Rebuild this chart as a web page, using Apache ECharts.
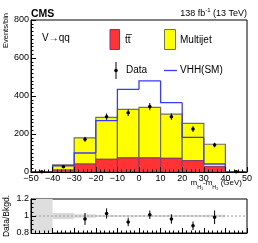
<!DOCTYPE html>
<html><head><meta charset="utf-8">
<script src="https://cdn.jsdelivr.net/npm/echarts@6/dist/echarts.min.js"></script>
<style>html,body{margin:0;padding:0;background:#fff}#c{width:258px;height:243px}</style>
</head><body><div id="c"></div>
<script>
// ---- data ----
const binLo = [-50, -40, -30, -20, -10, 0, 10, 20, 30, 40];
const binWidth = 10;
const ttbar = [0, 10, 42, 67, 74, 74, 72, 60, 28, 0];
const multijet = [0, 27, 138, 221, 256, 266, 233, 196, 118, 0];
const vhh = [2, 33, 100, 270, 435, 480, 365, 182, 42, 2];
const dataVals = [1, 28, 172, 291, 312, 344, 291, 226, 142, 1];
const dataErr = [1, 5, 13, 17, 18, 19, 17, 15, 12, 1];
const ratioVals = [null, null, 0.965, 1.03, 0.93, 1.015, 0.965, 0.885, 0.985, null];
const ratioErr = [null, null, 0.07, 0.06, 0.05, 0.05, 0.055, 0.05, 0.08, null];
const bandErr = [null, 0.035, 0.02, 0.012, 0.01, 0.01, 0.012, 0.012, 0.015, 0];
const yTickLabels = [0, 200, 400, 600, 800];
const xMin = -50, xMax = 50, xStep = 10;
const yMin = 0, yMax = 800, yStep = 200;
const rMin = 0.8, rMax = 1.2, rStep = 0.2;

const FONT = 'Liberation Sans, Arial, Helvetica, sans-serif';
const chart = echarts.init(document.getElementById('c'));

function axisCommon() {
  return {
    axisLine: {show: true, onZero: false, lineStyle: {color: '#000', width: 1}},
    axisTick: {show: true, inside: true, length: 5, lineStyle: {color: '#000', width: 1}},
    minorTick: {show: true, length: 2.5, lineStyle: {color: '#000', width: 1}},
    splitLine: {show: false}, z: 10
  };
}

chart.setOption({
  animation: false,
  grid: [
    {show: true, borderColor: '#000', borderWidth: 1, backgroundColor: 'transparent', containLabel: false, left: 31, top: 20, width: 216, height: 152},
    {show: true, borderColor: '#000', borderWidth: 1, backgroundColor: 'transparent', containLabel: false, left: 31, top: 199, width: 216, height: 34}
  ],
  xAxis: [
    Object.assign(axisCommon(), {type: 'value', gridIndex: 0, min: xMin, max: xMax, interval: xStep,
      minorTick: {show: true, splitNumber: 5, length: 2.5},
      axisLabel: {fontFamily: FONT, fontSize: 9, color: '#000', margin: 2,
        formatter: v => (v < 0 ? '\u2212' + Math.abs(v) : String(v))}}),
    Object.assign(axisCommon(), {type: 'value', gridIndex: 1, min: xMin, max: xMax, interval: xStep,
      minorTick: {show: true, splitNumber: 5, length: 2.5},
      axisLabel: {show: false}})
  ],
  yAxis: [
    Object.assign(axisCommon(), {type: 'value', gridIndex: 0, min: yMin, max: yMax, interval: yStep,
      minorTick: {show: true, splitNumber: 10, length: 2.5},
      axisLabel: {fontFamily: FONT, fontSize: 9, color: '#000', margin: 2}}),
    Object.assign(axisCommon(), {type: 'value', gridIndex: 1, min: rMin, max: rMax, interval: rStep,
      minorTick: {show: true, splitNumber: 4, length: 2.5},
      axisLabel: {fontFamily: FONT, fontSize: 9, color: '#000', margin: 2}})
  ],
  series: [
    {
      type: 'custom', xAxisIndex: 0, yAxisIndex: 0, z: 2,
      data: binLo.map((lo, i) => [lo, lo + binWidth, ttbar[i], multijet[i]]),
      encode: {x: [0, 1], y: [2, 3]},
      renderItem(params, api) {
        const x0 = api.value(0), x1 = api.value(1), t = api.value(2), m = api.value(3);
        if (t + m <= 0) return null;
        const b = api.coord([x0, 0]), r = api.coord([x1, t]), tp = api.coord([x1, t + m]);
        return {type: 'group', children: [
          {type: 'rect', shape: {x: b[0], y: tp[1], width: r[0] - b[0], height: r[1] - tp[1]},
            style: {fill: '#ffff00', stroke: '#6e6e6e', lineWidth: 1.2}},
          {type: 'rect', shape: {x: b[0], y: r[1], width: r[0] - b[0], height: b[1] - r[1]},
            style: {fill: '#ff3333', stroke: '#8a3a6a', lineWidth: 1}}
        ]};
      }
    },
    {
      type: 'custom', xAxisIndex: 0, yAxisIndex: 0, z: 3,
      data: binLo.map((lo, i) => [lo, lo + binWidth, vhh[i], i > 0 ? vhh[i - 1] : 0]),
      encode: {x: [0, 1], y: [2]},
      renderItem(params, api) {
        const x0 = api.value(0), x1 = api.value(1), v = api.value(2), p = api.value(3);
        const a = api.coord([x0, p]), b = api.coord([x0, v]), c = api.coord([x1, v]);
        return {type: 'polyline', shape: {points: [a, b, c]},
          style: {stroke: '#3a3aff', lineWidth: 1.3, fill: null}};
      }
    },
    {
      type: 'custom', xAxisIndex: 0, yAxisIndex: 0, z: 4,
      data: binLo.map((lo, i) => [lo + binWidth / 2, dataVals[i], dataErr[i]]),
      encode: {x: [0], y: [1]},
      renderItem(params, api) {
        const x = api.value(0), v = api.value(1), e = api.value(2);
        const lo = api.coord([x, Math.max(0, v - e)]), hi = api.coord([x, v + e]), c = api.coord([x, v]);
        return {type: 'group', children: [
          {type: 'line', shape: {x1: lo[0], y1: lo[1], x2: hi[0], y2: hi[1]}, style: {stroke: '#000', lineWidth: 1}},
          {type: 'circle', shape: {cx: c[0], cy: c[1], r: 1.8}, style: {fill: '#000'}}
        ]};
      }
    },
    {
      type: 'custom', xAxisIndex: 1, yAxisIndex: 1, z: 2,
      data: binLo.map((lo, i) => [lo, lo + binWidth, bandErr[i] == null ? -1 : bandErr[i]]),
      encode: {x: [0, 1], y: [2]},
      renderItem(params, api) {
        const x0 = api.value(0), x1 = api.value(1), e = api.value(2);
        if (e === 0) return null;
        const yl = e < 0 ? rMin : 1 - e, yh = e < 0 ? rMax : 1 + e;
        const a = api.coord([x0, yh]), b = api.coord([x1, yl]);
        return {type: 'rect', shape: {x: a[0], y: a[1], width: b[0] - a[0], height: b[1] - a[1]},
          style: {fill: e < 0 ? '#dedede' : '#d9d9d9'}};
      }
    },
    {
      type: 'custom', xAxisIndex: 1, yAxisIndex: 1, z: 3,
      data: [[xMin, xMax, 1]],
      encode: {x: [0, 1], y: [2]},
      renderItem(params, api) {
        const a = api.coord([api.value(0), api.value(2)]), b = api.coord([api.value(1), api.value(2)]);
        return {type: 'line', shape: {x1: a[0], y1: a[1], x2: b[0], y2: b[1]},
          style: {stroke: '#9a9a9a', lineWidth: 1, lineDash: [2, 2]}};
      }
    },
    {
      type: 'custom', xAxisIndex: 1, yAxisIndex: 1, z: 4,
      data: binLo.map((lo, i) => [lo + binWidth / 2, ratioVals[i], ratioErr[i]]).filter(d => d[1] != null),
      encode: {x: [0], y: [1]},
      renderItem(params, api) {
        const x = api.value(0), v = api.value(1), e = api.value(2);
        const lo = api.coord([x, v - e]), hi = api.coord([x, v + e]), c = api.coord([x, v]);
        return {type: 'group', children: [
          {type: 'line', shape: {x1: lo[0], y1: lo[1], x2: hi[0], y2: hi[1]}, style: {stroke: '#000', lineWidth: 1}},
          {type: 'circle', shape: {cx: c[0], cy: c[1], r: 1.8}, style: {fill: '#000'}}
        ]};
      }
    }
  ]
});

// check whether the y-axis labels of the upper panel were drawn
function hasVisibleLabel(txt) {
  let found = false;
  chart.getZr().storage.getDisplayList(true).forEach(el => {
    if (el.style && String(el.style.text) === txt && !el.invisible && el.style.opacity !== 0) found = true;
  });
  return found;
}
const needYLabels = !(hasVisibleLabel('400') && hasVisibleLabel('600') && hasVisibleLabel('800'));

const graphics = [
  {type: 'text', x: 31, y: 19.5, style: {text: 'CMS', font: 'bold 10.5px ' + FONT, fill: '#000', textAlign: 'left', align: 'left', textVerticalAlign: 'bottom', verticalAlign: 'bottom'}},
  {type: 'text', x: 247, y: 18.5, style: {
    text: '{n|138 fb}{s|-1}{n| (13 TeV)}', textAlign: 'right', align: 'right', textVerticalAlign: 'bottom', verticalAlign: 'bottom',
    rich: {n: {font: '9px ' + FONT, fill: '#000', verticalAlign: 'bottom', lineHeight: 11},
           s: {font: '6px ' + FONT, fill: '#000', verticalAlign: 'top', lineHeight: 11}}}},
  {type: 'text', x: 6, y: 13, rotation: Math.PI / 2, style: {text: 'Events/bin', font: '7.5px ' + FONT, fill: '#000', textAlign: 'right', align: 'right', textVerticalAlign: 'middle', verticalAlign: 'middle'}},
  {type: 'text', x: 7, y: 216, rotation: Math.PI / 2, style: {text: 'Data/Bkgd.', font: '8.5px ' + FONT, fill: '#000', textAlign: 'center', align: 'center', textVerticalAlign: 'middle', verticalAlign: 'middle'}},
  {type: 'text', x: 42, y: 38, style: {text: 'V\u2192qq', font: '10px ' + FONT, fill: '#000', textAlign: 'left', align: 'left', textVerticalAlign: 'middle', verticalAlign: 'middle'}},
  {type: 'rect', shape: {x: 110, y: 29.5, width: 9.5, height: 20}, style: {fill: '#ff3333', stroke: '#6a3aa0', lineWidth: 1}},
  {type: 'text', x: 125, y: 40, style: {text: 'tt\u0305', font: '10px ' + FONT, fill: '#000', textAlign: 'left', align: 'left', textVerticalAlign: 'middle', verticalAlign: 'middle'}},
  {type: 'rect', shape: {x: 164.5, y: 29.5, width: 11, height: 20}, style: {fill: '#ffff00', stroke: '#6e6e6e', lineWidth: 1}},
  {type: 'text', x: 180, y: 40, style: {text: 'Multijet', font: '10px ' + FONT, fill: '#000', textAlign: 'left', align: 'left', textVerticalAlign: 'middle', verticalAlign: 'middle'}},
  {type: 'line', shape: {x1: 116, y1: 62, x2: 116, y2: 79}, style: {stroke: '#000', lineWidth: 1}},
  {type: 'circle', shape: {cx: 116, cy: 70.5, r: 1.8}, style: {fill: '#000'}},
  {type: 'text', x: 126, y: 70.5, style: {text: 'Data', font: '10px ' + FONT, fill: '#000', textAlign: 'left', align: 'left', textVerticalAlign: 'middle', verticalAlign: 'middle'}},
  {type: 'line', shape: {x1: 164, y1: 70.5, x2: 177, y2: 70.5}, style: {stroke: '#3a3aff', lineWidth: 1.3}},
  {type: 'text', x: 180, y: 70.5, style: {text: 'VHH(SM)', font: '10px ' + FONT, fill: '#000', textAlign: 'left', align: 'left', textVerticalAlign: 'middle', verticalAlign: 'middle'}},
  {type: 'text', x: 242, y: 190, style: {
    text: '{m|m}{s|H\u2081}{m|-m}{s|H\u2082}{m| (GeV)}', textAlign: 'right', align: 'right', textVerticalAlign: 'bottom', verticalAlign: 'bottom',
    rich: {m: {font: '8px ' + FONT, fill: '#000', verticalAlign: 'top', lineHeight: 11},
           s: {font: '5.5px ' + FONT, fill: '#000', verticalAlign: 'bottom', lineHeight: 11}}}}
];

if (needYLabels) {
  // fallback: place the tick labels at the positions given by the axis scale
  yTickLabels.forEach(v => {
    const py = chart.convertToPixel({yAxisIndex: 0}, v);
    const px = chart.convertToPixel({xAxisIndex: 0}, xMin) - 2;
    graphics.push({type: 'text', x: px, y: py, z: 20, style: {text: String(v), font: '9px ' + FONT, fill: '#000',
      textAlign: 'right', align: 'right', textVerticalAlign: 'middle', verticalAlign: 'middle'}});
  });
}

chart.setOption({graphic: graphics});
</script>
</body></html>
